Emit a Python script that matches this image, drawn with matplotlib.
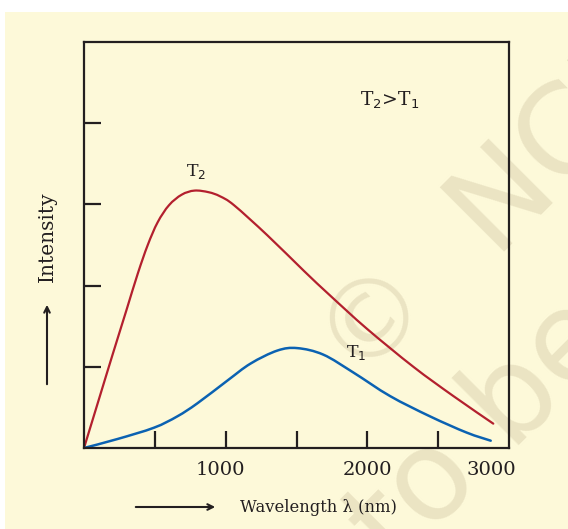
import numpy as np
import matplotlib.pyplot as plt
from matplotlib.patches import Rectangle, PathPatch
from matplotlib.path import Path

# wavelength (nm) vs intensity (arbitrary units, axis 0..5)
t2_wavelength = [0, 100, 200, 300, 380, 450, 520, 600, 690, 780, 880, 960, 1059, 1294,
                 1553, 1736, 1996, 2325, 2607, 2889]
t2_intensity = [0.0, 0.57, 1.14, 1.7, 2.15, 2.5, 2.78, 2.99, 3.12, 3.17, 3.15, 3.10, 2.99, 2.62,
                2.18, 1.88, 1.47, 1.0, 0.64, 0.30]

t1_wavelength = [0, 235, 494, 659, 800, 1012, 1176, 1365, 1506, 1689, 1901, 2160, 2442, 2701, 2871]
t1_intensity = [0.0, 0.11, 0.25, 0.39, 0.55, 0.83, 1.04, 1.2, 1.23, 1.15, 0.93, 0.64, 0.39, 0.19, 0.09]

x_ticks = [500, 1000, 1500, 2000, 2500]
y_ticks = [1, 2, 3, 4]
x_labels = ["1000", "2000", "3000"]
x_label_pos = [960, 1998, 2878]

ink = "#231f20"
red = "#b3202e"
blue = "#0b62b2"
paper = "#fdf9d9"
wm = "#ebe4c3"

W, H = 568, 529


def fx(px):
    return px / W


def fy(py):
    return 1 - py / H


def smooth_path(xs, ys):
    # Catmull-Rom through the read points, drawn as cubic Bezier segments
    pts = np.column_stack([xs, ys]).astype(float)
    verts = [pts[0]]
    codes = [Path.MOVETO]
    n = len(pts)
    for i in range(n - 1):
        p0 = pts[max(i - 1, 0)]
        p1 = pts[i]
        p2 = pts[i + 1]
        p3 = pts[min(i + 2, n - 1)]
        verts += [p1 + (p2 - p0) / 6, p2 - (p3 - p1) / 6, p2]
        codes += [Path.CURVE4] * 3
    return Path(verts, codes)


plt.rcParams["font.family"] = ["DejaVu Serif"]

fig = plt.figure(figsize=(5.68, 5.29), dpi=100, facecolor="white")
# yellow page behind everything (thin white strip at top and left)
fig.patches.append(Rectangle((fx(5), 0), 1, fy(12), transform=fig.transFigure,
                             facecolor=paper, edgecolor="none", zorder=-2))

# faint watermark under the plot
fig.text(fx(372), fy(313), "\u00a9", fontsize=78, color=wm, rotation=45,
         ha="center", va="center", family="DejaVu Sans", zorder=-1)
fig.text(fx(492), fy(252), "NCERT", fontsize=90, color=wm, rotation=45,
         ha="left", va="baseline", rotation_mode="anchor", family="DejaVu Sans", zorder=-1)
fig.text(fx(395), fy(570), "to be", fontsize=90, color=wm, rotation=45,
         ha="left", va="baseline", rotation_mode="anchor", family="DejaVu Sans", zorder=-1)

ax = fig.add_axes([fx(84), fy(448), 425 / W, 406 / H])
ax.set_facecolor("none")
ax.set_zorder(1)

ax.add_patch(PathPatch(smooth_path(t2_wavelength, t2_intensity), fill=False,
                       edgecolor=red, linewidth=1.6, capstyle="round"))
ax.add_patch(PathPatch(smooth_path(t1_wavelength, t1_intensity), fill=False,
                       edgecolor=blue, linewidth=1.8, capstyle="round"))

ax.set_xlim(0, 3000)
ax.set_ylim(0, 5)
ax.set_xticks(x_ticks)
ax.set_xticklabels([])
ax.set_yticks(y_ticks)
ax.set_yticklabels([])
ax.tick_params(direction="in", length=12.5, width=1.6, color=ink)
for s in ax.spines.values():
    s.set_linewidth(1.6)
    s.set_color(ink)

for pos, lab in zip(x_label_pos, x_labels):
    ax.text(pos, -0.27, lab, ha="center", va="center", fontsize=14, color=ink)

ax.text(790, 3.40, "T$_2$", ha="center", va="center", fontsize=12.5, color=ink)
ax.text(1920, 1.17, "T$_1$", ha="center", va="center", fontsize=12.5, color=ink)
ax.text(2160, 4.28, "T$_2$>T$_1$", ha="center", va="center", fontsize=13.5, color=ink)

# axis captions with arrows
fig.text(fx(318), fy(507), "Wavelength \u03bb (nm)", ha="center", va="center",
         fontsize=11.8, color=ink)
fig.text(fx(47), fy(237), "Intensity", ha="center", va="center",
         fontsize=14.5, color=ink, rotation=90)
ax.annotate("", xy=(fx(218), fy(507)), xytext=(fx(133), fy(507)),
            xycoords="figure fraction",
            arrowprops=dict(arrowstyle="->", color=ink, lw=1.5))
ax.annotate("", xy=(fx(47), fy(302)), xytext=(fx(47), fy(387)),
            xycoords="figure fraction",
            arrowprops=dict(arrowstyle="->", color=ink, lw=1.5))

fig.savefig("out.png", dpi=100, facecolor="white")
